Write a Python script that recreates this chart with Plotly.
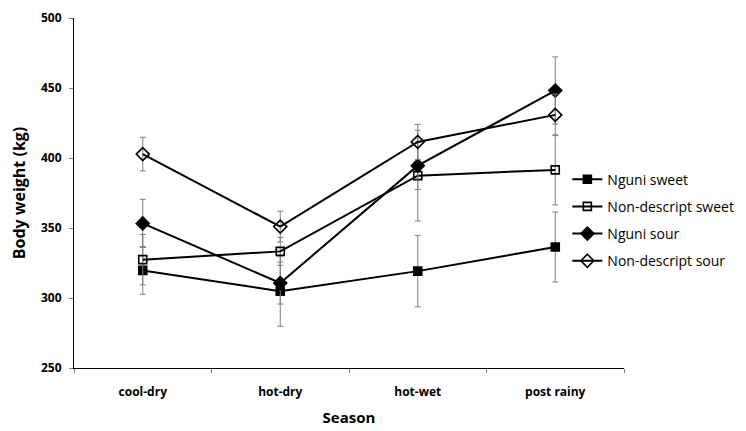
import plotly.graph_objects as go

seasons = ["cool-dry", "hot-dry", "hot-wet", "post rainy"]

nguni_sweet = [319.7, 304.8, 319.2, 336.4]
nguni_sweet_err = [17, 25, 25.5, 25]

nondesc_sweet = [327.4, 333.3, 387.4, 391.5]
nondesc_sweet_err = [18, 10, 32.4, 25]

nguni_sour = [353.3, 310.7, 394.5, 448.2]
nguni_sour_err = [17.2, 15, 17, 24]

nondesc_sour = [402.8, 351.0, 411.5, 430.8]
nondesc_sour_err = [12, 11, 12.5, 14.8]

series = [
    ("Nguni sweet", nguni_sweet, nguni_sweet_err, "square"),
    ("Non-descript sweet", nondesc_sweet, nondesc_sweet_err, "square-open"),
    ("Nguni sour", nguni_sour, nguni_sour_err, "diamond"),
    ("Non-descript sour", nondesc_sour, nondesc_sour_err, "diamond-open"),
]

fig = go.Figure()
for i, (name, vals, errs, sym) in enumerate(series):
    fig.add_trace(go.Scatter(
        x=seasons, y=vals, name=name, mode="lines+markers",
        legendgroup=f"g{i}",
        line=dict(color="black", width=2),
        marker=dict(symbol=sym, size=8 if "square" in sym else 10, color="black",
                    line=dict(color="black", width=1.6)),
        error_y=dict(type="data", array=errs, visible=True, color="#7f7f7f",
                     thickness=1, width=3),
    ))

fig.update_layout(
    width=746, height=431,
    margin=dict(l=66, r=130, t=10, b=71, autoexpand=False),
    paper_bgcolor="white", plot_bgcolor="white",
    font=dict(family="Open Sans, sans-serif", color="black"),
    showlegend=True,
    legend=dict(x=0.897, xanchor="left", y=0.584, yanchor="top",
                font=dict(size=14, color="black"),
                traceorder="grouped", tracegroupgap=6,
                bgcolor="rgba(0,0,0,0)", itemwidth=30),
    xaxis=dict(
        type="category", range=[-0.5, 3.5], automargin=False,
        showline=True, linecolor="black", linewidth=1,
        ticks="outside", tickson="boundaries", ticklen=4, tickcolor="#7f7f7f",
        tickfont=dict(size=12, family="Open Sans, sans-serif", weight="bold"),
        ticklabelstandoff=13,
        title=dict(text="<b>Season</b>", font=dict(size=15), standoff=13),
        showgrid=False, zeroline=False,
    ),
    yaxis=dict(
        range=[250, 500], tickvals=[250, 300, 350, 400, 450, 500],
        automargin=False,
        showline=True, linecolor="black", linewidth=1,
        ticks="outside", ticklen=4, tickcolor="#7f7f7f",
        tickfont=dict(size=12, family="Open Sans, sans-serif", weight="bold"),
        ticklabelstandoff=5, ticklabeloverflow="allow",
        title=dict(text="<b>Body weight (kg)</b>", font=dict(size=16), standoff=12),
        showgrid=False, zeroline=False,
    ),
)

fig.write_html("out.html")
